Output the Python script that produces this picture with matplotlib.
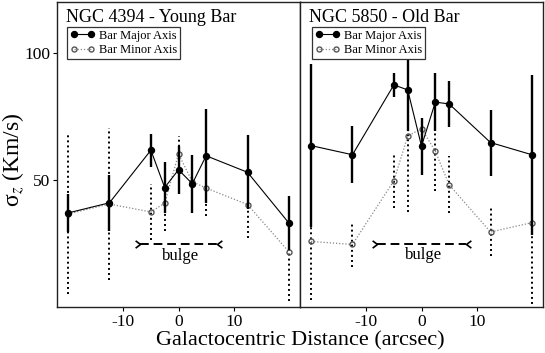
import matplotlib
matplotlib.use("Agg")
import matplotlib.pyplot as plt
from matplotlib.path import Path
import numpy as np

plt.rcParams['font.family'] = ['Liberation Serif', 'DejaVu Serif']
plt.rcParams['mathtext.fontset'] = 'stix'

# Galactocentric positions (arcsec)
pos = [-20, -12.5, -5, -2.5, 0, 2.5, 5, 12.5, 20]

# NGC 4394 - Young Bar
n4394_major = [37, 41, 61.7, 47, 54, 48.5, 59.5, 53, 33]
n4394_major_err = [7.5, 11, 6.5, 10, 9.5, 11.5, 18.5, 14.5, 10.5]
n4394_minor = [36.6, 40.5, 37.4, 40.9, 60.2, 49.3, 46.8, 40.3, 21.7]
n4394_minor_err = [31.6, 29.8, 11, 11, 7, 8, 11, 13, 19.3]

# NGC 5850 - Old Bar
n5850_major = [63.5, 59.9, 87.4, 85.4, 63.3, 80.6, 79.9, 64.7, 59.9]
n5850_major_err = [32, 11.3, 4.6, 16, 11.2, 11.5, 9, 13, 31.5]
n5850_minor = [25.8, 24.6, 49.7, 67.2, 70.2, 61.3, 48.1, 29.5, 33.2]
n5850_minor_err = [23, 9, 10.8, 29.7, 5, 15.5, 11.2, 9.3, 34]

titles = ["NGC 4394 - Young Bar", "NGC 5850 - Old Bar"]
bulge_extent = [(-7, 7), (-8, 8)]
bulge_y = [24.6, 24.8]
bulge_label = "bulge"

fig = plt.figure(figsize=(5.45, 3.53), dpi=100)
W, H = 545, 353
ax1 = fig.add_axes([57 / W, 46 / H, 243 / W, 305 / H])
ax2 = fig.add_axes([300 / W, 46 / H, 243 / W, 305 / H])

panels = [
    (ax1, n4394_major, n4394_major_err, n4394_minor, n4394_minor_err),
    (ax2, n5850_major, n5850_major_err, n5850_minor, n5850_minor_err),
]

left_head = Path([(-0.8, 0.6), (0, 0), (-0.8, -0.6)], [Path.MOVETO, Path.LINETO, Path.LINETO])
right_head = Path([(0.8, 0.6), (0, 0), (0.8, -0.6)], [Path.MOVETO, Path.LINETO, Path.LINETO])

for i, (ax, maj, majerr, mino, minoerr) in enumerate(panels):
    # minor axis
    eb = ax.errorbar(pos, mino, yerr=minoerr, fmt='o', color='#777777',
                     ecolor='black', elinewidth=1.4, capsize=0,
                     markersize=3.6, markerfacecolor='none',
                     markeredgecolor='#555555', markeredgewidth=1.0, zorder=2)
    for lc in eb[2]:
        lc.set_linestyle((0, (1, 1.6)))
    ax.plot(pos, mino, linestyle=(0, (1, 1.5)), color='#888888', lw=0.9, zorder=2)
    # major axis
    ax.errorbar(pos, maj, yerr=majerr, fmt='none', ecolor='black',
                elinewidth=1.7, capsize=0, zorder=3)
    ax.plot(pos, maj, '-', color='black', lw=0.8, marker='o', markersize=4.3,
            markerfacecolor='black', markeredgecolor='black', zorder=4)

    # legend handles
    h1, = ax.plot([], [], '-', color='black', lw=0.8, marker='o', markersize=4.3)
    h2, = ax.plot([], [], linestyle=(0, (1, 1.5)), color='#888888', lw=0.9,
                  marker='o', markersize=3.6, markerfacecolor='none',
                  markeredgecolor='#555555', markeredgewidth=1.0)
    leg = ax.legend([h1, h2], ["Bar Major Axis", "Bar Minor Axis"],
                    loc='upper left',
                    bbox_to_anchor=(0.041 if i == 0 else 0.048, 0.919),
                    borderaxespad=0, fontsize=9, numpoints=2, fancybox=False,
                    framealpha=1, edgecolor='#333333', handlelength=2.0,
                    handletextpad=0.3, borderpad=0.25, labelspacing=0.2)
    leg.get_frame().set_linewidth(0.9)
    leg.set_zorder(10)

    ax.text(0.035, 0.978, titles[i], transform=ax.transAxes, ha='left',
            va='top', fontsize=13)

    # bulge arrow
    bx0, bx1 = bulge_extent[i]
    ax.plot([bx0, bx1], [bulge_y[i]] * 2, color='black', lw=1.4,
            dashes=(4.5, 2.5), zorder=3)
    ax.plot([bx0], [bulge_y[i]], linestyle='none', marker=left_head,
            markersize=7, markerfacecolor='none', markeredgecolor='black',
            markeredgewidth=1.2)
    ax.plot([bx1], [bulge_y[i]], linestyle='none', marker=right_head,
            markersize=7, markerfacecolor='none', markeredgecolor='black',
            markeredgewidth=1.2)
    ax.text((bx0 + bx1) / 2 + 0.3, bulge_y[i] - 1.3, bulge_label, ha='center',
            va='top', fontsize=12)

    ax.set_xlim(-22, 22)
    ax.set_ylim(0, 120)
    ax.set_xticks([-10, 0, 10])
    ax.set_xticklabels(['-10', '0', '10'])
    ax.tick_params(axis='both', direction='out', length=3, width=0.8,
                   labelsize=12.5, pad=2)
    for sp in ax.spines.values():
        sp.set_linewidth(1.0)
        sp.set_color('#222222')

ax1.set_yticks([50, 100])
ax2.set_yticks([])

fig.text(13 / W, (H - 160) / H, 'σ$_z$ (Km/s)', rotation=90,
         ha='center', va='center', fontsize=17)

fig.text((57 + 543) / 2 / W, (353 - 341) / H, 'Galactocentric Distance (arcsec)',
         ha='center', va='center', fontsize=16)

fig.savefig('out.png', dpi=100)
